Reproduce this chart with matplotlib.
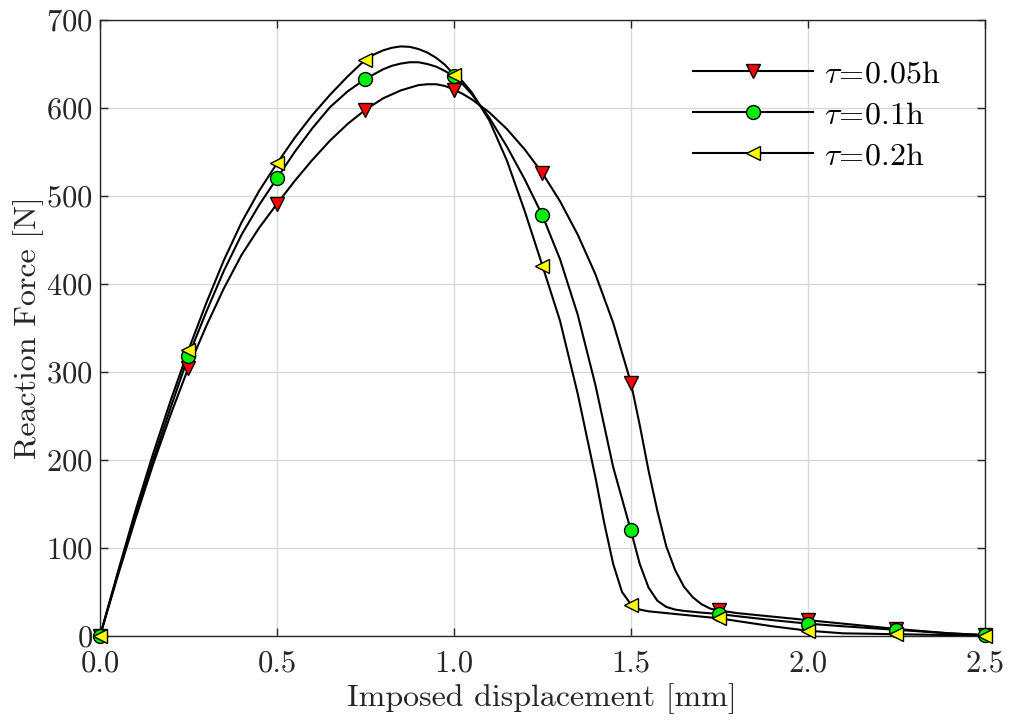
import matplotlib
matplotlib.use("Agg")
import matplotlib.pyplot as plt
from matplotlib.lines import Line2D

plt.rcParams['font.family'] = ['cmr10', 'DejaVu Serif']
plt.rcParams['mathtext.fontset'] = 'cm'
plt.rcParams['axes.formatter.use_mathtext'] = True

# Marker positions (every 0.25 mm)
marker_x = [0.0, 0.25, 0.5, 0.75, 1.0, 1.25, 1.5, 1.75, 2.0, 2.25, 2.5]
marker_005 = [0, 305, 491, 598, 621, 526, 288, 29, 18, 8, 1]
marker_01 = [0, 318, 520, 633, 636, 478, 120, 25, 14, 7, 1]
marker_02 = [0, 325, 537, 655, 638, 421, 35, 20, 6, 2, 0]

# Curves
curve_x_005 = [0, 0.05, 0.1, 0.15, 0.2, 0.25, 0.3, 0.35, 0.4, 0.45, 0.5, 0.55, 0.6, 0.65,
               0.7, 0.75, 0.8, 0.85, 0.875, 0.9, 0.925, 0.95, 0.975, 1.0, 1.025, 1.05,
               1.1, 1.15, 1.2, 1.25, 1.3, 1.35, 1.4, 1.45, 1.5, 1.525, 1.55, 1.575,
               1.6, 1.625, 1.65, 1.675, 1.7, 1.725, 1.75, 1.8, 1.9, 2.0, 2.1, 2.25,
               2.4, 2.5]
curve_y_005 = [0, 68, 133, 195, 252, 305, 352, 395, 433, 464, 491, 517, 541, 563,
               582, 598, 611, 620, 623, 626, 627, 627, 625, 621, 616, 610,
               595, 576, 553, 526, 494, 456, 411, 356, 288, 240, 188, 142,
               102, 75, 56, 44, 36, 31, 29, 26, 22, 18, 14, 8,
               3, 1]

curve_x_01 = [0, 0.05, 0.1, 0.15, 0.2, 0.25, 0.3, 0.35, 0.4, 0.45, 0.5, 0.55, 0.6, 0.65,
              0.7, 0.75, 0.8, 0.825, 0.85, 0.875, 0.9, 0.925, 0.95, 0.975, 1.0, 1.025,
              1.05, 1.1, 1.15, 1.2, 1.25, 1.3, 1.35, 1.4, 1.45, 1.5, 1.525, 1.55,
              1.575, 1.6, 1.625, 1.65, 1.7, 1.75, 1.8, 1.9, 2.0, 2.1, 2.25, 2.4, 2.5]
curve_y_01 = [0, 70, 137, 200, 260, 318, 368, 415, 456, 490, 520, 550, 577, 601,
              619, 633, 644, 648, 650.5, 652, 652, 650, 647, 642, 636, 627,
              616, 589, 556, 519, 478, 428, 365, 285, 192, 120, 82, 55,
              40, 33, 30, 28.5, 26.5, 25, 22.5, 18, 14, 11, 7, 3, 1]

curve_x_02 = [0, 0.05, 0.1, 0.15, 0.2, 0.25, 0.3, 0.35, 0.4, 0.45, 0.5, 0.55, 0.6, 0.65,
              0.7, 0.75, 0.775, 0.8, 0.825, 0.85, 0.875, 0.9, 0.925, 0.95, 0.975, 1.0,
              1.025, 1.05, 1.1, 1.15, 1.2, 1.25, 1.3, 1.35, 1.4, 1.425, 1.45, 1.475,
              1.5, 1.525, 1.55, 1.6, 1.7, 1.75, 1.8, 1.9, 2.0, 2.1, 2.25, 2.4, 2.5]
curve_y_02 = [0, 72, 142, 207, 268, 325, 378, 427, 470, 506, 537, 566, 592, 615,
              636, 655, 661, 665.5, 668.5, 670, 669.5, 667, 663, 657, 649, 638,
              630, 618, 586, 540, 483, 421, 358, 275, 180, 128, 82, 50,
              36, 30, 28, 26, 22, 20, 17, 11, 6, 3, 2, 1, 0]

labels = [r'$\tau\!=\!0.05\mathrm{h}$', r'$\tau\!=\!0.1\mathrm{h}$', r'$\tau\!=\!0.2\mathrm{h}$']
markers = ['v', 'o', '<']
colors = ['#ff0000', '#00ee00', '#ffff00']

fig = plt.figure(figsize=(10.10, 7.25), dpi=100)
ax = fig.add_axes([0.099, 0.1228, 0.876, 0.8496])

curves = [(curve_x_005, curve_y_005), (curve_x_01, curve_y_01), (curve_x_02, curve_y_02)]
mks = [marker_005, marker_01, marker_02]
for i in range(3):
    cx, cy = curves[i]
    ax.plot(cx, cy, color='black', lw=1.5, zorder=3, solid_joinstyle='round')
for i in range(3):
    ax.plot(marker_x, mks[i], linestyle='none', marker=markers[i], markersize=10,
            markerfacecolor=colors[i], markeredgecolor='black', markeredgewidth=1.0,
            zorder=4 + i, clip_on=False)

handles = [Line2D([0], [0], color='black', lw=1.5, marker=markers[i], markersize=10,
                  markerfacecolor=colors[i], markeredgecolor='black', markeredgewidth=1.0)
           for i in range(3)]
leg = ax.legend(handles, labels, loc='upper left', bbox_to_anchor=(0.656, 0.956),
                frameon=False, fontsize=23, handlelength=3.75, handletextpad=0.35,
                labelspacing=0.4, numpoints=1, borderaxespad=0)

ax.set_xlim(0, 2.5)
ax.set_ylim(0, 700)
ax.set_xticks([0.0, 0.5, 1.0, 1.5, 2.0, 2.5])
ax.set_xticklabels(['0.0', '0.5', '1.0', '1.5', '2.0', '2.5'])
ax.set_yticks(range(0, 701, 100))
ax.tick_params(direction='in', length=6, width=1.0, labelsize=22, top=True, right=True,
               colors='#262626', pad=5)
ax.tick_params(axis='x', pad=10)
ax.tick_params(labelcolor='#262626')
for s in ax.spines.values():
    s.set_color('#262626')
    s.set_linewidth(1.0)
ax.grid(True, color='#d9d9d9', lw=1.0)
ax.set_axisbelow(True)
ax.set_xlabel('Imposed displacement [mm]', fontsize=23, color='#262626', labelpad=4)
ax.set_ylabel('Reaction Force [N]', fontsize=23, color='#262626', labelpad=2)

fig.savefig('out.png', dpi=100)
